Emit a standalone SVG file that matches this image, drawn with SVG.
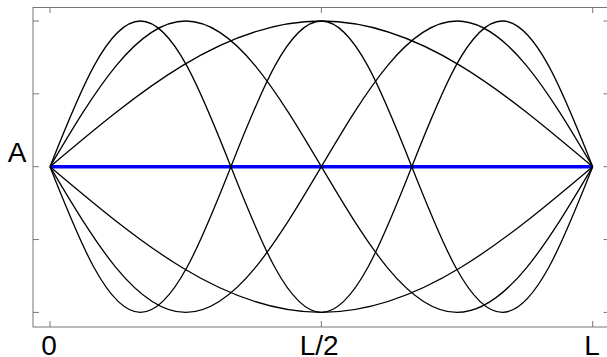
<svg xmlns="http://www.w3.org/2000/svg" width="607" height="357" viewBox="0 0 607 357">
<style>
.frame{fill:none;stroke:#777;stroke-width:1}
.tick{stroke:#777;stroke-width:1;fill:none}
.wave{fill:none;stroke:#000;stroke-width:1.3}
.lbl{font-family:"Liberation Sans",Arial,sans-serif;font-size:28px;fill:#000}
</style>
<rect width="607" height="357" fill="#fff"/>
<g id="axes">
<rect class="frame" x="33" y="7.5" width="576" height="319.5"/>
<path class="tick" d="M50,7.5V13 M321.35,7.5V13 M592.7,7.5V13 M50,327V321 M321.35,327V321 M592.7,327V321 M33,21H39 M33,93.85H39 M33,166.7H39 M33,239.55H39 M33,312.4H39 M603.5,21H609 M603.5,93.85H609 M603.5,166.7H609 M603.5,239.55H609 M603.5,312.4H609"/>
</g>
<g id="baseline">
<line x1="50" y1="166.7" x2="592.7" y2="166.7" stroke="#0000ff" stroke-width="3.5"/>
</g>
<g id="waves">
<path id="n1p" class="wave" d="M50,166.7 C138.5,92.06 223.15,21 321.35,21 C419.55,21 504.2,92.06 592.7,166.7"/>
<path id="n1m" class="wave" d="M50,166.7 C138.5,241.34 223.15,312.4 321.35,312.4 C419.55,312.4 504.2,241.34 592.7,166.7"/>
<path id="n2p" class="wave" d="M50,166.7 C94.25,92.06 136.57,21 185.675,21 C234.78,21 277.1,92.06 321.35,166.7 C365.6,241.34 407.92,312.4 457.025,312.4 C506.13,312.4 548.45,241.34 592.7,166.7"/>
<path id="n2m" class="wave" d="M50,166.7 C94.25,241.34 136.57,312.4 185.675,312.4 C234.78,312.4 277.1,241.34 321.35,166.7 C365.6,92.06 407.92,21 457.025,21 C506.13,21 548.45,92.06 592.7,166.7"/>
<path id="n3p" class="wave" d="M50,166.7 C79.5,92.06 107.71,21 140.45,21 C173.19,21 201.4,92.06 230.9,166.7 C260.4,241.34 288.61,312.4 321.35,312.4 C354.09,312.4 382.3,241.34 411.8,166.7 C441.3,92.06 469.51,21 502.25,21 C534.99,21 563.2,92.06 592.7,166.7"/>
<path id="n3m" class="wave" d="M50,166.7 C79.5,241.34 107.71,312.4 140.45,312.4 C173.19,312.4 201.4,241.34 230.9,166.7 C260.4,92.06 288.61,21 321.35,21 C354.09,21 382.3,92.06 411.8,166.7 C441.3,241.34 469.51,312.4 502.25,312.4 C534.99,312.4 563.2,241.34 592.7,166.7"/>
</g>
<g id="labels">
<text class="lbl" x="17" y="161.7" text-anchor="middle">A</text>
<text class="lbl" x="49" y="355" text-anchor="middle">0</text>
<text class="lbl" x="299.7" y="355">L/2</text>
<text class="lbl" x="592" y="355" text-anchor="middle">L</text>
</g>
</svg>
